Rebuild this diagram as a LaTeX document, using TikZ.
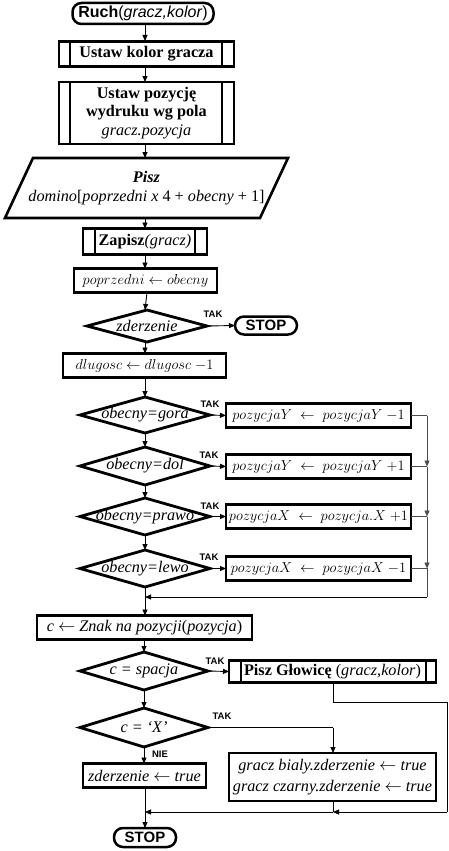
\documentclass[tikz,border=0pt]{standalone}
\usepackage{fontspec}
\setmainfont{Liberation Serif}
\newfontfamily\arialf{Liberation Sans}
\usetikzlibrary{arrows.meta,calc}
\newcommand\drawdia[1]{\draw[diab] (#1.north) -- (#1.east) -- (#1.south) -- (#1.west) -- cycle;}
\newcommand\subl[3]{\draw[line width=2.4pt] ([xshift=#2]#1.north west) -- ([xshift=#2]#1.south west);
  \draw[line width=2.4pt] ([xshift=-#3]#1.north east) -- ([xshift=-#3]#1.south east);}
\begin{document}
\begin{tikzpicture}[x=1pt,y=-1pt,
  every node/.style={inner sep=0pt, outer sep=0pt, font=\fontsize{16.2}{18.5}\selectfont},
  blk/.style={draw, line width=2.8pt, rectangle, align=center},
  mth/.style={font=\fontsize{14.4}{17}\selectfont},
  dia/.style={rectangle, align=center},
  diab/.style={line width=2.8pt},
  term/.style={draw, line width=2.5pt, rounded corners=9pt, align=center, font=\arialf\fontsize{16}{18}\selectfont},
  arr/.style={-{Triangle[length=6pt,width=5pt]}, line width=0.9pt},
  ln/.style={line width=0.9pt},
  bus/.style={line width=0.9pt, draw=black!70},
  busarr/.style={-{Triangle[length=6pt,width=5pt]}, line width=0.9pt, draw=black!70, fill=black},
  tak/.style={font=\arialf\bfseries\fontsize{9.5}{10}\selectfont}]
\useasboundingbox (0,0) rectangle (448,851);
\fill[white] (0,0) rectangle (448,851);

% nodes
\node[term, minimum width=141, minimum height=21] (ruch) at (143,13.5) {\textbf{Ruch}(\textit{gracz,kolor})};
\node[blk, minimum width=175, minimum height=25] (kol) at (146.5,54) {\textbf{Ustaw kolor gracza}};
\subl{kol}{11pt}{12pt}
\node[blk, minimum width=175, minimum height=62] (poz) at (146.5,113) {\textbf{Ustaw pozycję}\\\textbf{wydruku wg pola}\\\textit{gracz.pozycja}};
\subl{poz}{11pt}{12pt}
\node[dia, minimum width=255, minimum height=60] (pisz) at (146.5,188) {\textbf{\textit{Pisz}}\\\textit{domino}[\textit{poprzedni x} 4 + \textit{obecny} + 1]};
\draw[line width=2.6pt] ($(pisz.north west)+(14,0)$) -- ($(pisz.north east)+(14,0)$) -- ($(pisz.south east)+(-14,0)$) -- ($(pisz.south west)+(-14,0)$) -- cycle;
\node[blk, minimum width=124, minimum height=26] (zap) at (145,241.5) {\textbf{Zapisz}\textit{(gracz)}};
\subl{zap}{12pt}{12pt}
\node[blk, mth, minimum width=143, minimum height=24] (pop) at (145.5,280.5) {$poprzedni \leftarrow obecny$};
\node[dia, minimum width=120, minimum height=32] (zd) at (147,326) {\textit{zderzenie}};
\drawdia{zd}
\node[term, minimum width=62, minimum height=18, font=\arialf\bfseries\fontsize{15}{17}\selectfont] (stopa) at (266,325.5) {STOP};
\node[blk, mth, minimum width=163, minimum height=24] (dl) at (144.5,365.5) {$dlugosc \leftarrow dlugosc\;{-1}$};

\node[dia, minimum width=130, minimum height=36] (gora) at (145,415) {\textit{obecny=gora}};
\drawdia{gora}
\node[blk, mth, minimum width=185, minimum height=24] (gb) at (318.5,415.5) {$pozycjaY \;\leftarrow\; pozycjaY\;{-1}$};
\node[dia, minimum width=130, minimum height=38] (dol) at (145,466) {\textit{obecny=dol}};
\drawdia{dol}
\node[blk, mth, minimum width=185, minimum height=24] (db) at (318.5,466.5) {$pozycjaY \;\leftarrow\; pozycjaY\;{+1}$};
\node[dia, minimum width=130, minimum height=37] (prawo) at (145,516.5) {\textit{obecny=prawo}};
\drawdia{prawo}
\node[blk, mth, minimum width=185, minimum height=24] (pb) at (318.5,516.5) {$pozycjaX \;\leftarrow\; pozycja.X\;{+1}$};
\node[dia, minimum width=130, minimum height=37] (lewo) at (145,568.5) {\textit{obecny=lewo}};
\drawdia{lewo}
\node[blk, mth, minimum width=185, minimum height=24] (lb) at (318.5,568.5) {$pozycjaX \;\leftarrow\; pozycjaX\;{-1}$};

\node[blk, minimum width=215, minimum height=24] (cz) at (144.5,627.5) {\textit{c} $\leftarrow$ \textit{Znak na pozycji}(\textit{pozycja})};
\node[dia, minimum width=128, minimum height=38] (sp) at (144,671) {\textit{c = spacja}};
\drawdia{sp}
\node[blk, minimum width=207, minimum height=22] (glow) at (332.5,671.5) {\textbf{Pisz Głowicę} (\textit{gracz,kolor})};
\subl{glow}{12pt}{10pt}
\node[dia, minimum width=128, minimum height=39] (xd) at (144,727.5) {\textit{c = ‘X’}};
\drawdia{xd}
\node[blk, minimum width=207, minimum height=48] (gr) at (332.5,777) {\textit{gracz bialy.zderzenie} $\leftarrow$ \textit{true}\\[2pt]\textit{gracz czarny.zderzenie} $\leftarrow$ \textit{true}};
\node[blk, minimum width=123, minimum height=24] (zt) at (144.5,775.5) {\textit{zderzenie} $\leftarrow$ \textit{true}};
\node[term, minimum width=62, minimum height=19, font=\arialf\bfseries\fontsize{15}{17}\selectfont] (stopb) at (145,837.5) {STOP};

% coordinates
\coordinate (bus) at (427,0);
\coordinate (ret) at (145,597);
\coordinate (mrg) at (145,812);
\coordinate (gx) at (333,812);
\coordinate (gc1) at (333,702);
\coordinate (gc2) at (447,702);
\coordinate (gc3) at (447,812);
\coordinate (xc) at (333,727.5);

% main connectors
\draw[arr] (ruch.south -| kol.north) ++(-1.5,0) -- ++(0,17);
\draw[arr] (145,66.5) -- (145,82);
\draw[arr] (145,144) -- (145,158);
\draw[arr] (145,218) -- (145,228.5);
\draw[arr] (zap.south) -- (zap.south |- pop.north);
\draw[arr] (pop.south) -- (pop.south -| zd.north) ++(0,0) -- (145,310);
\draw[arr] (zd.east) -- (stopa.west);
\draw[arr] (145,342) -- (dl.north -| 145,0);
\draw[arr] (dl.south -| 145,0) -- (gora.north);
\draw[arr] (gora.south) -- (dol.north);
\draw[arr] (dol.south) -- (prawo.north);
\draw[arr] (prawo.south) -- (lewo.north);
\draw[arr] (lewo.south) -- (cz.north -| lewo.south);
\draw[arr] (gora.east) -- (gb.west);
\draw[arr] (dol.east) -- (db.west);
\draw[arr] (prawo.east) -- (pb.west);
\draw[arr] (lewo.east) -- (lb.west);

% bus
\draw[bus] (gb.east) -- (gb.east -| bus);
\draw[busarr] (gb.east -| bus) -- (db.east -| bus);
\draw[bus] (db.east) -- (db.east -| bus);
\draw[busarr] (db.east -| bus) -- (pb.east -| bus);
\draw[bus] (pb.east) -- (pb.east -| bus);
\draw[busarr] (pb.east -| bus) -- (lb.east -| bus);
\draw[bus] (lb.east) -- (lb.east -| bus) -- (ret -| bus);
\draw[arr] (ret -| bus) -- (ret);

\draw[arr] (cz.south -| sp.north) -- (sp.north);
\draw[arr] (sp.east) -- (glow.west);
\draw[arr] (sp.south) -- (xd.north);
\draw[arr] (xd.south) -- (xd.south |- zt.north);
\draw[ln] (xd.east) -- (xc);
\draw[arr] (xc) -- (gr.north -| xc);
\draw[ln] (glow.south -| gc1) -- (gc1) -- (gc2) -- (gc3);
\draw[arr] (gc3) -- (gx);
\draw[ln] (gr.south -| gx) -- (gx);
\draw[arr] (gx) -- (mrg);
\draw[ln] (zt.south -| mrg) -- (mrg);
\draw[arr] (mrg) -- (stopb.north -| mrg);

% labels
\node[tak] (t1) at (213,314) {TAK};
\node[tak] (t2) at (210,404.5) {TAK};
\node[tak] (t3) at (209,455) {TAK};
\node[tak] (t4) at (210,506) {TAK};
\node[tak] (t5) at (209,557) {TAK};
\node[tak] (t6) at (215,661) {TAK};
\node[tak] (t7) at (222,716) {TAK};
\node[tak] (t8) at (160,754) {NIE};
\end{tikzpicture}
\end{document}
